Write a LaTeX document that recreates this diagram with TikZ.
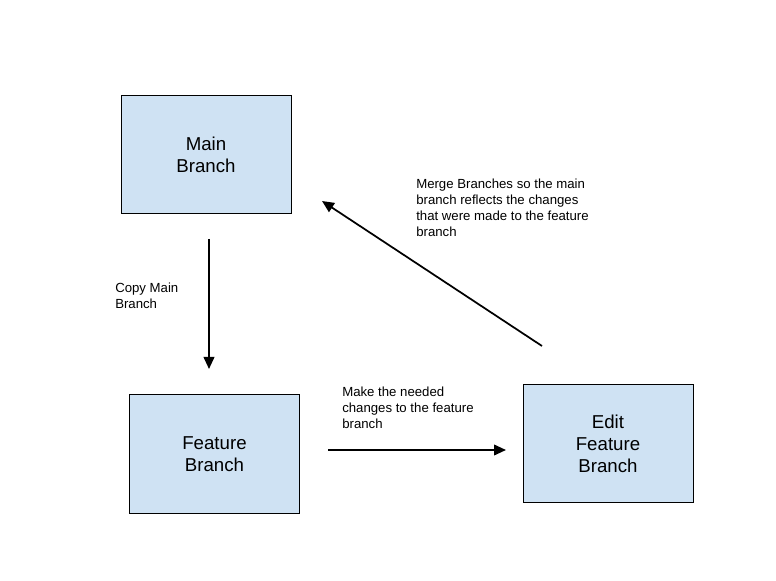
\documentclass[tikz,border=0pt]{standalone}
\usepackage{fontspec}
\setmainfont{Liberation Sans}
\usetikzlibrary{arrows.meta}

\definecolor{boxblue}{HTML}{CFE2F3}

\tikzset{
  branchbox/.style={draw=black, line width=0.7pt, fill=boxblue, align=center,
    minimum width=127.5pt, minimum height=89pt, inner sep=0pt,
    font=\fontsize{14}{16.5}\selectfont},
  steplabel/.style={anchor=north west, align=left, inner sep=0pt,
    font=\fontsize{9.9}{12}\selectfont},
  flow/.style={line width=1.3pt, -{Triangle[length=9pt, width=8pt]}},
}

\begin{document}
\begin{tikzpicture}[x=0.75pt, y=-0.75pt]
\useasboundingbox (0,0) rectangle (776,581);

% ---------- branch boxes ----------
\node[branchbox] (main) at (206,154.5) {Main\\Branch};
\node[branchbox] (feature) at (214.5,454) {Feature\\Branch};
\node[branchbox] (edit) at (608,443.5) {Edit\\Feature\\Branch};

% ---------- arrow ends ----------
\coordinate (copyStart) at (209,239);
\coordinate (copyEnd) at (209,369);
\coordinate (makeStart) at (328,450);
\coordinate (makeEnd) at (506,450);
\coordinate (mergeStart) at (542,346);
\coordinate (mergeEnd) at (322,201);

\draw[flow] (copyStart) -- (copyEnd);
\draw[flow] (makeStart) -- (makeEnd);
\draw[flow] (mergeStart) -- (mergeEnd);

% ---------- step labels ----------
\node[steplabel] (copyText) at (115,283) {Copy Main\\Branch};
\node[steplabel] (makeText) at (342,387) {Make the needed\\changes to the feature\\branch};
\node[steplabel] (mergeText) at (416,179) {Merge Branches so the main\\branch reflects the changes\\that were made to the feature\\branch};

\end{tikzpicture}
\end{document}
